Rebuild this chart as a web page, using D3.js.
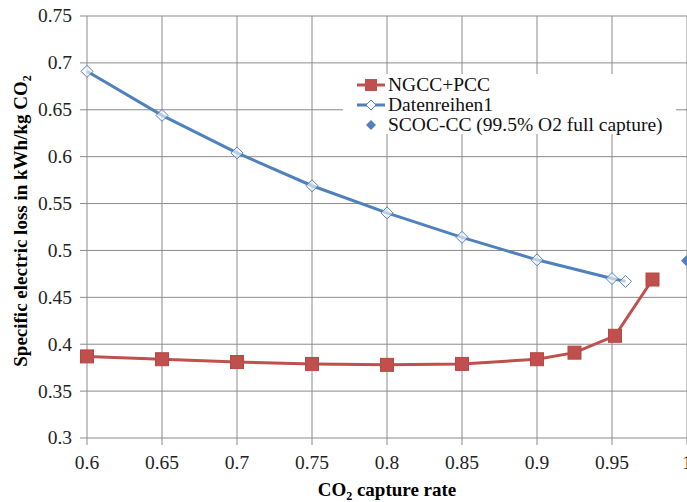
<!DOCTYPE html>
<html>
<head>
<meta charset="utf-8">
<script src="https://cdn.jsdelivr.net/npm/d3@7"></script>
<style>
  body { margin: 0; background: #fff; }
  svg text { font-family: "Liberation Serif", "Times New Roman", serif; }
</style>
</head>
<body>
<svg id="chart"></svg>
<script>
// DATOS
const xTicks = [0.6, 0.65, 0.7, 0.75, 0.8, 0.85, 0.9, 0.95, 1];
const yTicks = [0.3, 0.35, 0.4, 0.45, 0.5, 0.55, 0.6, 0.65, 0.7, 0.75];

const ngccX = [0.6, 0.65, 0.7, 0.75, 0.8, 0.85, 0.9, 0.925, 0.952, 0.977];
const ngccY = [0.387, 0.384, 0.381, 0.379, 0.378, 0.379, 0.384, 0.391, 0.409, 0.469];

const datenX = [0.6, 0.65, 0.7, 0.75, 0.8, 0.85, 0.9, 0.95, 0.959];
const datenY = [0.691, 0.644, 0.604, 0.569, 0.540, 0.514, 0.490, 0.470, 0.467];

const scocX = [1.0];
const scocY = [0.489];

const seriesNames = ["NGCC+PCC", "Datenreihen1", "SCOC-CC (99.5% O2 full capture)"];

// VARIABLES
const width = 687, height = 502;
const red = "#C0504D", blue = "#4F81BD", grid = "#8c8c8c";
const fs = 19.5; /* tamaño de letra */

const svg = d3.select("#chart").attr("width", width).attr("height", height);

// ESCALAS
const x = d3.scaleLinear().domain([0.6, 1]).range([87, 687]);
const y = d3.scaleLinear().domain([0.3, 0.75]).range([438, 16]);

// REJILLA
svg.append("g").selectAll("line").data(yTicks).enter().append("line")
  .attr("x1", 80).attr("x2", 687)
  .attr("y1", d => y(d)).attr("y2", d => y(d))
  .attr("stroke", grid).attr("stroke-width", 1);

svg.append("g").selectAll("line").data(xTicks).enter().append("line")
  .attr("x1", d => x(d)).attr("x2", d => x(d))
  .attr("y1", 16).attr("y2", 445)
  .attr("stroke", grid).attr("stroke-width", 1);

// ETIQUETAS EJES
svg.append("g").selectAll("text").data(yTicks).enter().append("text")
  .attr("x", 72).attr("y", d => y(d)).attr("dy", "0.33em")
  .attr("text-anchor", "end").attr("font-size", fs).attr("fill", "#222")
  .text(d => d);

svg.append("g").selectAll("text").data(xTicks).enter().append("text")
  .attr("x", d => x(d)).attr("y", 469)
  .attr("text-anchor", "middle").attr("font-size", fs).attr("fill", "#222")
  .text(d => d);

// TITULOS
const xt = svg.append("text").attr("x", 387).attr("y", 496)
  .attr("text-anchor", "middle").attr("font-size", 19).attr("font-weight", "bold");
xt.append("tspan").text("CO");
xt.append("tspan").attr("font-size", 12).attr("dy", 4).text("2");
xt.append("tspan").attr("dy", -4).text(" capture rate");

const yt = svg.append("text").attr("transform", "translate(27,221) rotate(-90)")
  .attr("text-anchor", "middle").attr("font-size", 19).attr("font-weight", "bold");
yt.append("tspan").text("Specific electric loss in kWh/kg CO");
yt.append("tspan").attr("font-size", 12).attr("dy", 4).text("2");

// LEYENDA (fondo)
svg.append("rect").attr("x", 343).attr("y", 74).attr("width", 333).attr("height", 60)
  .attr("fill", "#fff");

// LINEAS
const line = d3.line().x(d => x(d[0])).y(d => y(d[1]));
const daten = d3.zip(datenX, datenY);
const ngcc = d3.zip(ngccX, ngccY);

svg.append("path").datum(daten).attr("d", line)
  .attr("fill", "none").attr("stroke", blue).attr("stroke-width", 3);
svg.append("path").datum(ngcc).attr("d", line)
  .attr("fill", "none").attr("stroke", red).attr("stroke-width", 3);

// MARCADORES
const diamond = s => `M0,${-s}L${s},0L0,${s}L${-s},0Z`;

svg.append("g").selectAll("path").data(daten).enter().append("path")
  .attr("transform", d => `translate(${x(d[0])},${y(d[1])})`)
  .attr("d", diamond(6)).attr("fill", "#fff").attr("fill-opacity", 0.6)
  .attr("stroke", blue).attr("stroke-width", 1);

svg.append("g").selectAll("rect").data(ngcc).enter().append("rect")
  .attr("x", d => x(d[0]) - 6.5).attr("y", d => y(d[1]) - 6.5)
  .attr("width", 13).attr("height", 13)
  .attr("fill", red).attr("stroke", "#b84743").attr("stroke-width", 1);

svg.append("g").selectAll("path").data(d3.zip(scocX, scocY)).enter().append("path")
  .attr("transform", d => `translate(${x(d[0])},${y(d[1])})`)
  .attr("d", diamond(6)).attr("fill", blue);

// LEYENDA
const lg = svg.append("g");
const ly = [85, 105, 125];
lg.append("line").attr("x1", 357).attr("x2", 385).attr("y1", ly[0]).attr("y2", ly[0])
  .attr("stroke", red).attr("stroke-width", 3);
lg.append("rect").attr("x", 365).attr("y", ly[0] - 6).attr("width", 12).attr("height", 12)
  .attr("fill", red);
lg.append("line").attr("x1", 357).attr("x2", 385).attr("y1", ly[1]).attr("y2", ly[1])
  .attr("stroke", blue).attr("stroke-width", 3);
lg.append("path").attr("transform", `translate(371,${ly[1]})`).attr("d", diamond(5))
  .attr("fill", "#fff").attr("stroke", blue);
lg.append("path").attr("transform", `translate(371,${ly[2]})`).attr("d", diamond(5))
  .attr("fill", blue);
lg.selectAll("text").data(seriesNames).enter().append("text")
  .attr("x", 388).attr("y", (d, i) => ly[i]).attr("dy", "0.33em")
  .attr("font-size", fs).attr("fill", "#111")
  .text(d => d);
</script>
</body>
</html>
